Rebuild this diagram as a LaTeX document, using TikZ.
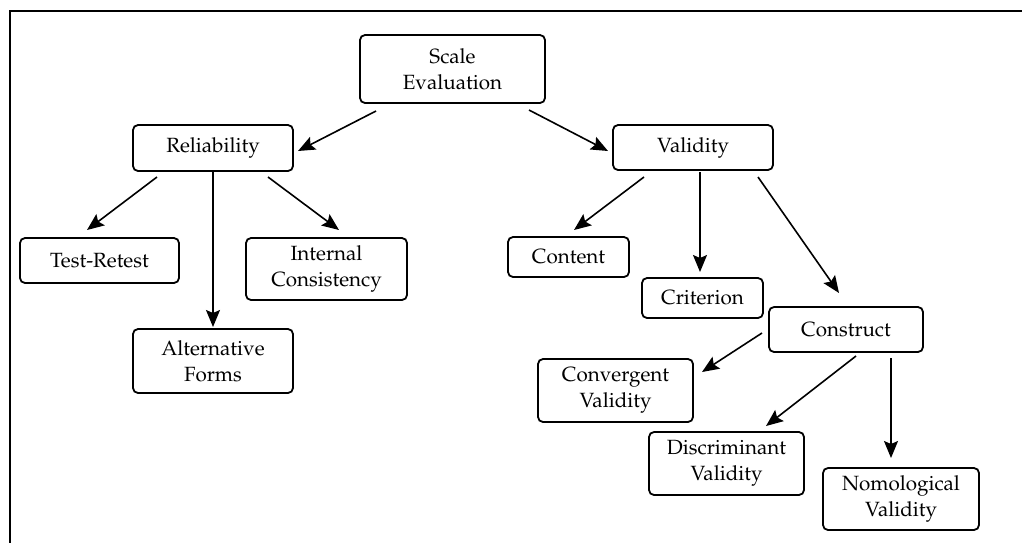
\documentclass[tikz,border=0pt]{standalone}
\usepackage[T1]{fontenc}
\usepackage{mathpazo}
\usetikzlibrary{arrows.meta}
\begin{document}
\begin{tikzpicture}[x=0.5pt,y=-0.5pt,>={Stealth[length=8.5pt,width=7pt,inset=1.5pt]},
    box/.style={draw,line width=0.9pt,rounded corners=2.5pt,align=center,inner sep=1pt,outer sep=0pt,
        font=\fontsize{10.3}{12.8}\selectfont},
    link/.style={->,line width=0.8pt}]
\useasboundingbox (0,0) rectangle (1022,543);
\draw[line width=1pt](1022,11)--(10,11)--(10,543);

\node[box,minimum width=92.5pt,minimum height=34pt](scale) at (452.5,69){Scale\\Evaluation};
\node[box,minimum width=80pt,minimum height=23pt](rel) at (213,148){Reliability};
\node[box,minimum width=80pt,minimum height=22.5pt](val) at (693,147.5){Validity};
\node[box,minimum width=79.5pt,minimum height=22.5pt](test) at (99.5,260.5){Test-Retest};
\node[box,minimum width=80.5pt,minimum height=31pt](intc) at (326.5,269){Internal\\Consistency};
\node[box,minimum width=80pt,minimum height=32pt](alt) at (213,361){Alternative\\Forms};
\node[box,minimum width=60.5pt,minimum height=20pt](cont) at (568.5,257){Content};
\node[box,minimum width=60.5pt,minimum height=20pt](crit) at (702.5,298){Criterion};
\node[box,minimum width=77pt,minimum height=22.5pt](cons) at (846,329.5){Construct};
\node[box,minimum width=77.5pt,minimum height=31.5pt](conv) at (615.5,390.5){Convergent\\Validity};
\node[box,minimum width=77.5pt,minimum height=31.5pt](disc) at (726.5,463.5){Discriminant\\Validity};
\node[box,minimum width=78pt,minimum height=31pt](nomo) at (901,499){Nomological\\Validity};

\draw[link]([xshift=8pt,yshift=-4pt]scale.south west)--([xshift=2.5pt,yshift=-1.5pt]rel.east);
\draw[link]([xshift=-8pt,yshift=-3.5pt]scale.south east)--([xshift=-2.5pt,yshift=-1.75pt]val.west);
\draw[link]([xshift=12pt,yshift=-3pt]rel.south west)--([xshift=-6.25pt,yshift=4pt]test.north);
\draw[link]([yshift=-0.5pt]rel.south)--([yshift=1pt]alt.north);
\draw[link]([xshift=-12.5pt,yshift=-3pt]rel.south east)--([xshift=6.25pt,yshift=4pt]intc.north);
\draw[link]([xshift=15.5pt,yshift=-3.5pt]val.south west)--([xshift=2.75pt,yshift=3.5pt]cont.north);
\draw[link]([xshift=3.5pt,yshift=-1pt]val.south)--([xshift=-1.25pt,yshift=3pt]crit.north);
\draw[link]([xshift=-7.5pt,yshift=-3.5pt]val.south east)--([xshift=-3.5pt,yshift=7pt]cons.north);
\draw[link]([xshift=-3.5pt,yshift=-1.75pt]cons.west)--([xshift=4.5pt,yshift=-6.5pt]conv.north east);
\draw[link]([xshift=5pt,yshift=-2pt]cons.south)--([xshift=19.75pt,yshift=3pt]disc.north);
\draw[link]([xshift=-16pt,yshift=-3pt]cons.south east)--([xshift=-5pt,yshift=5pt]nomo.north);

\end{tikzpicture}
\end{document}
